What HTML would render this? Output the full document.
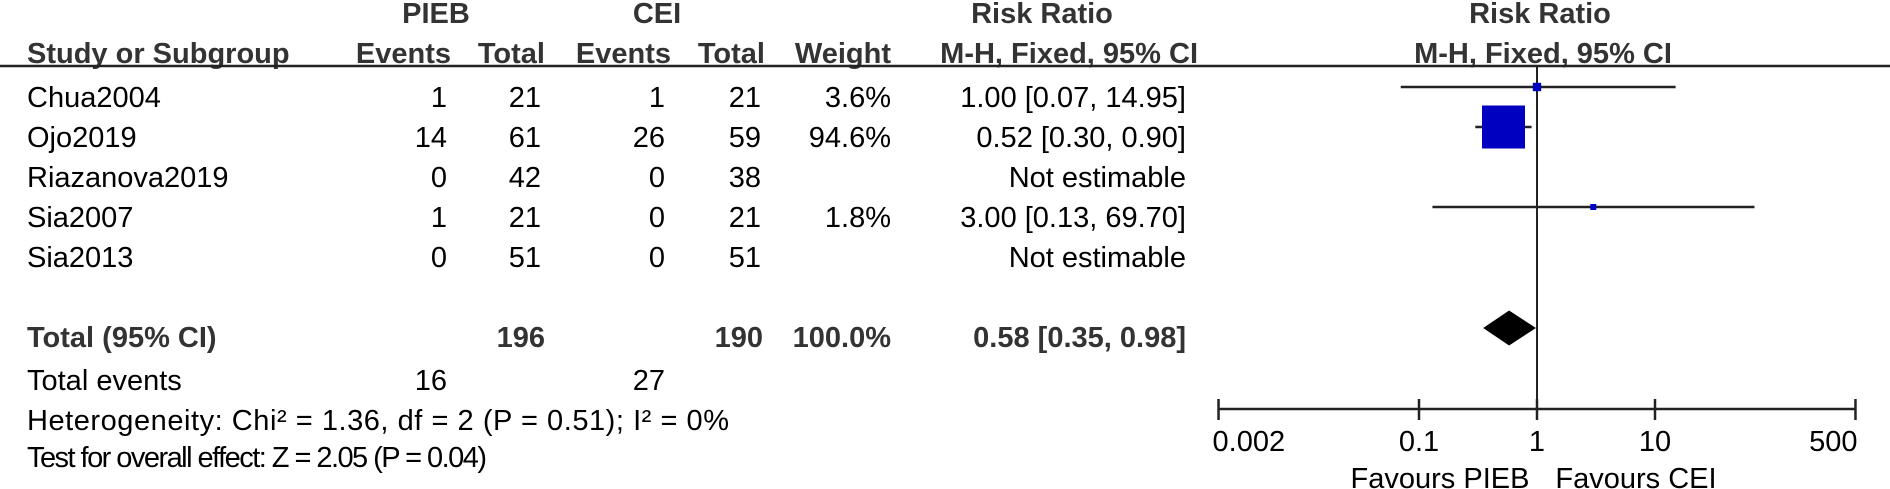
<!DOCTYPE html>
<html><head><meta charset="utf-8">
<style>
html,body{margin:0;padding:0;background:#fff;}
svg{display:block;font-family:"Liberation Sans",Arial,sans-serif;}
.h{font-weight:bold;fill:#333;font-size:29px;}
.t{fill:#000;font-size:29px;}
.b{font-weight:bold;fill:#333;font-size:29px;}
</style></head>
<body>
<svg id="c" width="1890" height="489" viewBox="0 0 1890 489">
  <text class="h" x="436" y="23" text-anchor="middle">PIEB</text>
  <text class="h" x="657" y="23" text-anchor="middle">CEI</text>
  <text class="h" x="1042" y="23" text-anchor="middle">Risk Ratio</text>
  <text class="h" x="1540" y="23" text-anchor="middle">Risk Ratio</text>
  <text class="h" x="27" y="63">Study or Subgroup</text>
  <text class="h" x="451" y="63" text-anchor="end">Events</text>
  <text class="h" x="545" y="63" text-anchor="end">Total</text>
  <text class="h" x="671" y="63" text-anchor="end">Events</text>
  <text class="h" x="765" y="63" text-anchor="end">Total</text>
  <text class="h" x="891" y="63" text-anchor="end">Weight</text>
  <text class="h" x="1198" y="63" text-anchor="end">M-H, Fixed, 95% CI</text>
  <text class="h" x="1543" y="63" text-anchor="middle">M-H, Fixed, 95% CI</text>
  <line x1="0" y1="66" x2="1890" y2="66" stroke="#222" stroke-width="2.5"/>
  <g id="rows"></g>
  <g id="plot"></g>
  <text class="b" x="27" y="347">Total (95% CI)</text>
  <text class="b" x="545" y="347" text-anchor="end">196</text>
  <text class="b" x="763" y="347" text-anchor="end">190</text>
  <text class="b" x="891" y="347" text-anchor="end">100.0%</text>
  <text class="b" x="1186" y="347" text-anchor="end">0.58 [0.35, 0.98]</text>
  <text class="t" x="27" y="390">Total events</text>
  <text class="t" x="447" y="390" text-anchor="end">16</text>
  <text class="t" x="665" y="390" text-anchor="end">27</text>
  <text class="t" x="27" y="430" textLength="702">Heterogeneity: Chi² = 1.36, df = 2 (P = 0.51); I² = 0%</text>
  <text class="t" x="27" y="467" textLength="460">Test for overall effect: Z = 2.05 (P = 0.04)</text>
  <text class="t" x="1440" y="488" text-anchor="middle">Favours PIEB</text>
  <text class="t" x="1636" y="488" text-anchor="middle">Favours CEI</text>
</svg>
<script>
const studies = ["Chua2004","Ojo2019","Riazanova2019","Sia2007","Sia2013"];
const piebEvents = [1,14,0,1,0];
const piebTotal = [21,61,42,21,51];
const ceiEvents = [1,26,0,0,0];
const ceiTotal = [21,59,38,21,51];
const weights = [3.6,94.6,null,1.8,null];
const rr = [1.00,0.52,null,3.00,null];
const ciLow = [0.07,0.30,null,0.13,null];
const ciHigh = [14.95,0.90,null,69.70,null];
const pooled = [0.58,0.35,0.98];
const ticks = [0.002,0.1,1,10,500];
const tickLabels = ["0.002","0.1","1","10","500"];

const NS="http://www.w3.org/2000/svg";
const X0=1537, DEC=118;
function xs(v){return X0+DEC*Math.log10(v);}
function rowY(i){return 97+40*i;}
const rowsG=document.getElementById('rows');
const plotG=document.getElementById('plot');
function mk(tag,attrs,parent){const e=document.createElementNS(NS,tag);for(const k in attrs)e.setAttribute(k,attrs[k]);parent.appendChild(e);return e;}
function txt(s,x,y,anchor,parent){const e=mk('text',{x:x,y:y,'text-anchor':anchor,'class':'t'},parent);e.textContent=s;return e;}

studies.forEach((s,i)=>{
  const y=rowY(i)+10;
  let e;
  e=txt(s,27,y,'start',rowsG);
  
  
  e=txt(String(piebEvents[i]),447,y,'end',rowsG);
  
  
  e=txt(String(piebTotal[i]),541,y,'end',rowsG);
  
  
  e=txt(String(ceiEvents[i]),665,y,'end',rowsG);
  
  
  e=txt(String(ceiTotal[i]),761,y,'end',rowsG);
  
  
  if(weights[i]!==null){
    e=txt(weights[i].toFixed(1)+'%',891,y,'end',rowsG);
    
    
  }
  const ci = rr[i]===null ? 'Not estimable' : rr[i].toFixed(2)+' ['+ciLow[i].toFixed(2)+', '+ciHigh[i].toFixed(2)+']';
  e=txt(ci,1186,y,'end',rowsG);
  
  
});

// vertical line of no effect
let v=mk('line',{x1:xs(1),y1:66,x2:xs(1),y2:409,stroke:'#222','stroke-width':2},plotG);



studies.forEach((s,i)=>{
  if(rr[i]===null) return;
  const y=rowY(i)-10;
  const l=mk('line',{x1:xs(ciLow[i]),y1:y,x2:xs(ciHigh[i]),y2:y,stroke:'#222','stroke-width':2.5},plotG);
  
  
  const sz=Math.max(6,Math.sqrt(weights[i]/94.6)*43);
  const r=mk('rect',{x:xs(rr[i])-sz/2,y:y-sz/2,width:sz,height:sz,fill:'#0000c0'},plotG);
  
  
});

const dy=328;
const d=mk('polygon',{points:`${xs(pooled[1])},${dy} ${xs(pooled[0])},${dy-17.5} ${xs(pooled[2])},${dy} ${xs(pooled[0])},${dy+17.5}`,fill:'#000'},plotG);



const ax=mk('line',{x1:xs(ticks[0]),y1:409,x2:xs(ticks[ticks.length-1]),y2:409,stroke:'#222','stroke-width':2.5},plotG);


ticks.forEach((t,i)=>{
  const tk=mk('line',{x1:xs(t),y1:399,x2:xs(t),y2:420,stroke:'#222','stroke-width':2.5},plotG);
  
  
  const anchor = i===0?'start':(i===ticks.length-1?'end':'middle');
  const xx = i===0?xs(t)-6:(i===ticks.length-1?xs(t)+2:xs(t));
  const lb=txt(tickLabels[i],xx,451,anchor,plotG);
  
  
});
</script>
</body></html>
